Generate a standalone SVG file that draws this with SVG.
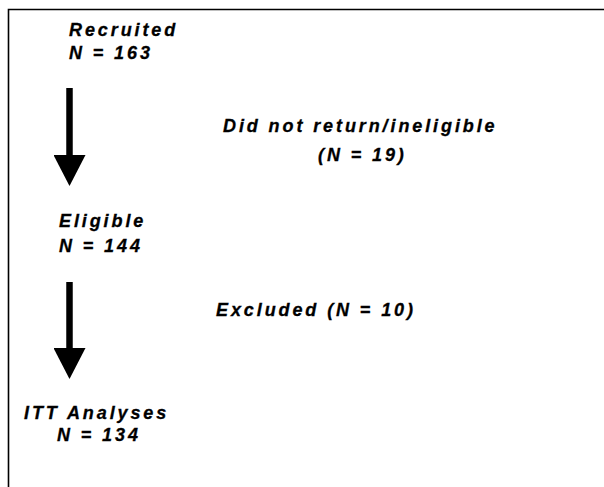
<svg xmlns="http://www.w3.org/2000/svg" width="604" height="487" viewBox="0 0 604 487">
<style>
.t{font-family:"Liberation Sans",Arial,Helvetica,sans-serif;font-weight:bold;font-style:italic;font-size:18px;letter-spacing:2.9px;fill:#000;stroke:#000;stroke-width:0.3}
.c{stroke:#000;stroke-width:6.5;fill:none}
</style>
<defs>
<marker id="ah" viewBox="0 0 31 32" markerWidth="31" markerHeight="32" refX="0" refY="16" orient="auto" markerUnits="userSpaceOnUse">
<path d="M0,0 L31,16 L0,32 Z" fill="#000"/>
</marker>
</defs>
<rect width="604" height="487" fill="#fff"/>
<path d="M8.5,487 V9.5 H604" fill="none" stroke="#000" stroke-width="1.6"/>
<g id="connectors">
<line class="c" x1="69.5" y1="88" x2="69.5" y2="155" marker-end="url(#ah)"/>
<line class="c" x1="69.5" y1="282" x2="69.5" y2="348" marker-end="url(#ah)"/>
</g>
<g id="recruited">
<text class="t" x="69" y="36">Recruited</text>
<text class="t" x="69" y="59">N = 163</text>
</g>
<g id="did-not-return">
<text class="t" x="223" y="132">Did not return/ineligible</text>
<text class="t" x="318" y="161">(N = 19)</text>
</g>
<g id="eligible">
<text class="t" x="59" y="227">Eligible</text>
<text class="t" x="59" y="252">N = 144</text>
</g>
<g id="excluded">
<text class="t" x="216" y="316">Excluded (N = 10)</text>
</g>
<g id="itt">
<text class="t" x="24" y="419">ITT Analyses</text>
<text class="t" x="57" y="441">N = 134</text>
</g>
</svg>
